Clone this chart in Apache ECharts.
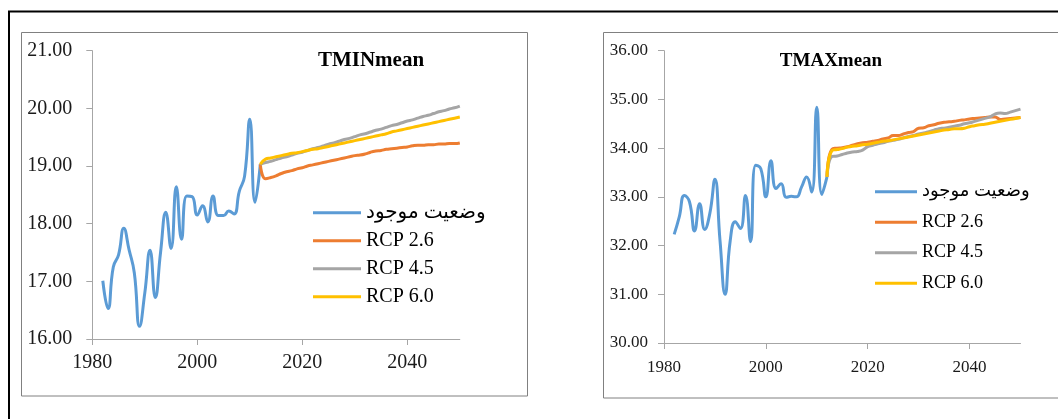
<!DOCTYPE html>
<html>
<head>
<meta charset="utf-8">
<script src="https://cdn.jsdelivr.net/npm/echarts@6/dist/echarts.min.js"></script>
<style>
  html, body { margin: 0; padding: 0; background: #fff; }
  #chart { width: 1058px; height: 419px; }
</style>
</head>
<body>
<div id="chart"></div>
<script>
// years
const obsYears = [1982, 1983, 1984, 1985, 1986, 1987, 1988, 1989, 1990, 1991, 1992,
  1993, 1994, 1995, 1996, 1997, 1998, 1999, 2000, 2001, 2002, 2003, 2004, 2005,
  2006, 2007, 2008, 2009, 2010, 2011, 2012]
const projYears = [2012, 2013, 2014, 2015, 2016, 2017, 2018, 2019, 2020, 2021, 2022,
  2023, 2024, 2025, 2026, 2027, 2028, 2029, 2030, 2031, 2032, 2033, 2034, 2035,
  2036, 2037, 2038, 2039, 2040, 2041, 2042, 2043, 2044, 2045, 2046, 2047, 2048,
  2049, 2050]
const xTicks = [1980, 2000, 2020, 2040]
const seriesNames = ['وضعیت موجود', 'RCP 2.6', 'RCP 4.5', 'RCP 6.0']

// TMINmean
const tminObs = [17.01, 16.53, 17.25, 17.46, 17.92, 17.55, 17.15, 16.22, 16.80, 17.54, 16.72,
  17.50, 18.20, 17.57, 18.64, 17.73, 18.48, 18.47, 18.15, 18.31, 18.03, 18.48, 18.14, 18.14,
  18.22, 18.17, 18.56, 18.82, 19.81, 18.37, 19.03]
const tminRcp26 = [19.03, 18.78, 18.80, 18.83, 18.87, 18.90, 18.92, 18.95, 18.97, 19.00, 19.02,
  19.04, 19.06, 19.08, 19.10, 19.12, 19.14, 19.16, 19.18, 19.19, 19.21, 19.24, 19.26, 19.27,
  19.29, 19.30, 19.31, 19.32, 19.33, 19.35, 19.36, 19.36, 19.37, 19.37, 19.38, 19.38, 19.39,
  19.39, 19.40]
const tminRcp45 = [19.03, 19.06, 19.08, 19.11, 19.14, 19.16, 19.19, 19.22, 19.24, 19.27, 19.30,
  19.32, 19.35, 19.38, 19.40, 19.43, 19.46, 19.48, 19.51, 19.54, 19.56, 19.59, 19.62, 19.64,
  19.67, 19.70, 19.72, 19.75, 19.78, 19.80, 19.83, 19.86, 19.88, 19.91, 19.94, 19.96, 19.99,
  20.01, 20.04]
const tminRcp60 = [19.03, 19.12, 19.14, 19.16, 19.18, 19.20, 19.22, 19.23, 19.25, 19.27, 19.29,
  19.30, 19.32, 19.34, 19.36, 19.38, 19.40, 19.42, 19.44, 19.46, 19.48, 19.50, 19.52, 19.54,
  19.56, 19.59, 19.61, 19.63, 19.65, 19.67, 19.69, 19.71, 19.73, 19.75, 19.77, 19.79, 19.81,
  19.83, 19.85]

// TMAXmean
const tmaxObs = [32.23, 32.59, 33.03, 32.90, 32.30, 32.86, 32.33, 32.66, 33.36, 32.10, 31.00,
  32.10, 32.49, 32.35, 33.03, 32.08, 33.65, 33.58, 33.00, 33.74, 33.17, 33.27, 32.99, 33.01,
  33.00, 33.20, 33.41, 33.10, 34.84, 33.05, 33.41]
const tmaxRcp26 = [33.41, 33.98, 34.00, 34.01, 34.03, 34.06, 34.09, 34.11, 34.12, 34.14, 34.16,
  34.19, 34.21, 34.26, 34.26, 34.29, 34.32, 34.34, 34.41, 34.42, 34.46, 34.48, 34.51, 34.53,
  34.54, 34.55, 34.57, 34.58, 34.60, 34.61, 34.62, 34.63, 34.64, 34.64, 34.59, 34.60, 34.61,
  34.62, 34.63]
const tmaxRcp45 = [33.41, 33.83, 33.84, 33.87, 33.90, 33.92, 33.93, 33.96, 34.03, 34.06, 34.09,
  34.11, 34.14, 34.16, 34.18, 34.21, 34.24, 34.26, 34.29, 34.31, 34.34, 34.37, 34.40, 34.41,
  34.43, 34.45, 34.47, 34.50, 34.52, 34.55, 34.58, 34.61, 34.64, 34.70, 34.72, 34.71, 34.74,
  34.77, 34.80]
const tmaxRcp60 = [33.41, 33.95, 33.97, 33.99, 34.02, 34.04, 34.05, 34.07, 34.08, 34.10, 34.12,
  34.14, 34.15, 34.17, 34.19, 34.21, 34.23, 34.25, 34.27, 34.29, 34.31, 34.33, 34.35, 34.37,
  34.38, 34.40, 34.40, 34.41, 34.44, 34.46, 34.48, 34.49, 34.51, 34.53, 34.55, 34.57, 34.59,
  34.61, 34.63]

const colors = ['#5B9BD5', '#ED7D31', '#A5A5A5', '#FFC000']
const serif = '"Liberation Serif", "Times New Roman", "DejaVu Sans", serif'
const axisColor = '#a6a6a6'

const pairs = (xs, ys) => xs.map((x, i) => [x, ys[i]])

function makeXAxis(gridIndex, fontSize, margin) {
  return {
    type: 'value',
    gridIndex,
    min: 1980,
    max: 2050,
    interval: 20,
    splitLine: { show: false },
    axisLine: { lineStyle: { color: axisColor, width: 1 } },
    axisTick: { length: 6, lineStyle: { color: axisColor }, customValues: xTicks },
    axisLabel: {
      customValues: xTicks,
      margin,
      color: '#1a1a1a',
      fontFamily: serif,
      fontSize,
      formatter: v => String(v)
    }
  }
}

function makeYAxis(gridIndex, min, max, fontSize, margin) {
  return {
    type: 'value',
    gridIndex,
    min,
    max,
    interval: 1,
    splitLine: { show: false },
    axisLine: { show: true, lineStyle: { color: axisColor, width: 1 } },
    axisTick: { show: true, length: 6, lineStyle: { color: axisColor } },
    axisLabel: {
      margin,
      color: '#1a1a1a',
      fontFamily: serif,
      fontSize,
      formatter: v => v.toFixed(2)
    }
  }
}

function makeSeries(idx, obs, r26, r45, r60) {
  const sets = [pairs(obsYears, obs), pairs(projYears, r26), pairs(projYears, r45), pairs(projYears, r60)]
  return sets.map((data, i) => ({
    name: seriesNames[i],
    type: 'line',
    xAxisIndex: idx,
    yAxisIndex: idx,
    data,
    smooth: true,
    showSymbol: false,
    symbol: 'none',
    color: colors[i],
    lineStyle: { width: 3, color: colors[i] },
    z: 2 + i
  }))
}

function makeLegend(left, top, itemWidth, fontSize, lineHeight, itemGap) {
  return {
    orient: 'vertical',
    left,
    top,
    icon: 'rect',
    itemWidth,
    itemHeight: 3,
    itemGap,
    padding: 0,
    selectedMode: false,
    data: seriesNames,
    textStyle: { fontFamily: serif, fontSize, lineHeight, color: '#000' }
  }
}

const chart = echarts.init(document.getElementById('chart'), null, { renderer: 'canvas' })

const option = {
  animation: false,
  backgroundColor: '#fff',
  grid: [
    { left: 92.3, top: 50.7, width: 367.5, height: 288.3 },
    { left: 664, top: 50.7, width: 356.5, height: 292.3 }
  ],
  xAxis: [makeXAxis(0, 20, 14), makeXAxis(1, 17, 16)],
  yAxis: [makeYAxis(0, 16, 21, 20, 20), makeYAxis(1, 30, 36, 17, 16)],
  legend: [
    makeLegend(313, 202.7, 48, 20, 20, 8),
    makeLegend(875, 182.7, 42, 18, 18, 12.5)
  ],
  graphic: [
    {
      type: 'rect', silent: true, z: -10,
      shape: { x: 9, y: 11.5, width: 1100, height: 500 },
      style: { fill: 'none', stroke: '#000', lineWidth: 2 }
    },
    {
      type: 'rect', silent: true, z: -10,
      shape: { x: 21.5, y: 32.5, width: 506, height: 363.5 },
      style: { fill: 'none', stroke: '#808080', lineWidth: 1 }
    },
    {
      type: 'rect', silent: true, z: -10,
      shape: { x: 603.5, y: 32.5, width: 500, height: 365.5 },
      style: { fill: 'none', stroke: '#808080', lineWidth: 1 }
    },
    {
      type: 'text', silent: true,
      x: 371, y: 61,
      style: {
        text: 'TMINmean', font: 'bold 21px ' + serif, fill: '#000',
        align: 'center', verticalAlign: 'middle', textAlign: 'center', textVerticalAlign: 'middle'
      }
    },
    {
      type: 'text', silent: true,
      x: 831, y: 61,
      style: {
        text: 'TMAXmean', font: 'bold 19px ' + serif, fill: '#000',
        align: 'center', verticalAlign: 'middle', textAlign: 'center', textVerticalAlign: 'middle'
      }
    }
  ],
  series: [
    ...makeSeries(0, tminObs, tminRcp26, tminRcp45, tminRcp60),
    ...makeSeries(1, tmaxObs, tmaxRcp26, tmaxRcp45, tmaxRcp60)
  ]
}

chart.setOption(option)
</script>
</body>
</html>
